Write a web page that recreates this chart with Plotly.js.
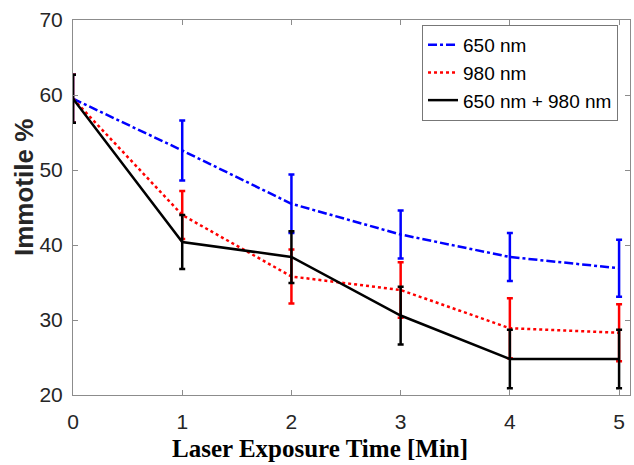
<!DOCTYPE html>
<html>
<head>
<meta charset="utf-8">
<script src="https://cdn.plot.ly/plotly-3.0.1.min.js"></script>
<style>html,body{margin:0;padding:0;background:#fff;}#chart{width:634px;height:465px;}</style>
</head>
<body>
<div id="chart"></div>
<script>
const times = [0, 1, 2, 3, 4, 5];
const seriesNames = ["650 nm", "980 nm", "650 nm + 980 nm"];
const immotile650 = [59.5, 52.6, 45.5, 41.4, 38.4, 36.9];
const err650 = [3.2, 4.0, 3.9, 3.2, 3.2, 3.8];
const immotile980 = [59.5, 44.0, 35.8, 34.0, 28.9, 28.3];
const err980 = [3.2, 3.2, 3.6, 3.7, 4.0, 3.8];
const immotileBoth = [59.5, 40.4, 38.4, 30.6, 24.8, 24.8];
const errBoth = [3.2, 3.6, 3.45, 3.85, 3.9, 3.9];
const xTickVals = [0, 1, 2, 3, 4, 5];
const yTickVals = [20, 30, 40, 50, 60, 70];
const xTitle = 'Laser Exposure Time [Min]';
const yTitle = 'Immotile %';

function trace(name, y, err, color, dash) {
  return {
    x: times, y: y, name: name, type: 'scatter', mode: 'lines',
    line: {color: color, width: 2.5, dash: dash},
    error_y: {type: 'data', array: err, visible: true, color: color, thickness: 2.5, width: 3}
  };
}
const data = [
  trace(seriesNames[0], immotile650, err650, '#0000ff', 'dashdot'),
  trace(seriesNames[1], immotile980, err980, '#ff0000', 'dot'),
  trace(seriesNames[2], immotileBoth, errBoth, '#000000', 'solid')
];
const axisCommon = {
  showgrid: false, zeroline: false, showline: true, linecolor: '#8c8c8c', linewidth: 1,
  mirror: 'ticks', ticks: 'inside', ticklen: 5, tickcolor: '#8c8c8c',
  tickfont: {family: 'Liberation Sans, Arial, sans-serif', size: 21, color: '#262626'}
};
const layout = {
  width: 634, height: 465,
  margin: {l: 73, r: 4, t: 20, b: 70},
  paper_bgcolor: '#fff', plot_bgcolor: '#fff',
  showlegend: true,
  legend: {
    x: 0.6266, y: 0.987, xanchor: 'left', yanchor: 'top',
    bgcolor: '#fff', bordercolor: '#777', borderwidth: 1,
    font: {family: 'Liberation Sans, Arial, sans-serif', size: 19, color: '#000'},
    tracegroupgap: 0
  },
  xaxis: Object.assign({}, axisCommon, {
    range: [0, 5.1], tickvals: xTickVals, ticklabelstandoff: 8
  }),
  yaxis: Object.assign({}, axisCommon, {
    range: [20, 70], tickvals: yTickVals, ticklabelstandoff: 5
  }),
  annotations: [
    {text: '<b>' + xTitle + '</b>', xref: 'paper', yref: 'paper', x: 0.4434, y: -0.144,
     xanchor: 'center', yanchor: 'middle', showarrow: false,
     font: {family: 'Liberation Serif, Times New Roman, serif', size: 25, color: '#000'}},
    {text: '<b>' + yTitle + '</b>', xref: 'paper', yref: 'paper', x: -0.088, y: 0.5547,
     xanchor: 'center', yanchor: 'middle', showarrow: false, textangle: -90,
     font: {family: 'Liberation Sans, Arial, sans-serif', size: 26, color: '#262626'}}
  ]
};
Plotly.newPlot('chart', data, layout, {displayModeBar: false, staticPlot: true});
</script>
</body>
</html>
